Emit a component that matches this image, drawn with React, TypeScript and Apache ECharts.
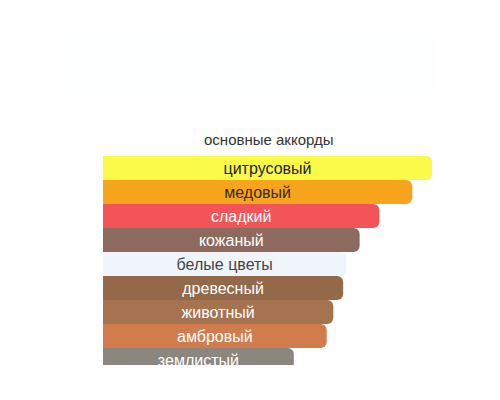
import React, { useEffect, useRef } from 'react';
import * as echarts from 'echarts';

// основные аккорды, сверху вниз
const accords = ['цитрусовый', 'медовый', 'сладкий', 'кожаный', 'белые цветы', 'древесный', 'животный', 'амбровый', 'землистый'];
const strengths = [100, 94, 84, 78, 74, 73, 70, 68, 58];
const barColors = ['#fafa48', '#f7a51c', '#f25459', '#8c6a5e', '#f0f4fb', '#93694a', '#a67350', '#d27c4d', '#8b877f'];
const labelColors = ['#222222', '#3a2a12', '#ffffff', '#ffffff', '#444444', '#ffffff', '#ffffff', '#ffffff', '#ffffff'];

const App: React.FC = () => {
	const chartRef = useRef<HTMLDivElement>(null);

	useEffect(() => {
		if (!chartRef.current) return;
		const chart = echarts.init(chartRef.current, undefined, { renderer: 'svg' });

		const option: echarts.EChartsOption = {
			animation: false,
			backgroundColor: '#ffffff',
			textStyle: { fontFamily: 'Liberation Sans, Arial, sans-serif' },
			graphic: [
				{
					type: 'rect',
					shape: { x: 57, y: 33, width: 380, height: 62 },
					style: { fill: '#fdfefe' },
					silent: true
				}
			],
			title: {
				text: 'основные аккорды',
				left: 204,
				top: 132,
				padding: 0,
				textStyle: {
					color: '#333333',
					fontSize: 15,
					fontWeight: 'normal',
					fontFamily: 'Liberation Sans, Arial, sans-serif'
				}
			},
			grid: { left: 103, right: 68, top: 156, bottom: 28 },
			xAxis: {
				type: 'value',
				min: 0,
				max: 100,
				show: false
			},
			yAxis: {
				type: 'category',
				data: accords,
				inverse: true,
				show: false
			},
			series: [
				{
					type: 'bar',
					barCategoryGap: '0%',
					data: strengths.map((v, i) => ({
						value: v,
						itemStyle: { color: barColors[i], borderRadius: [0, 6, 6, 0] },
						label: { color: labelColors[i] }
					})),
					label: {
						show: true,
						position: 'inside',
						formatter: (p: any) => accords[p.dataIndex],
						fontSize: 16,
						fontFamily: 'Liberation Sans, Arial, sans-serif'
					}
				}
			]
		};

		chart.setOption(option);
		return () => {
			chart.dispose();
		};
	}, []);

	return (
		<div style={{ position: 'absolute', left: 0, top: 0, width: 500, height: 365, overflow: 'hidden', background: '#fff' }}>
			<div ref={chartRef} style={{ width: 500, height: 400 }} />
		</div>
	);
};

export default App;
